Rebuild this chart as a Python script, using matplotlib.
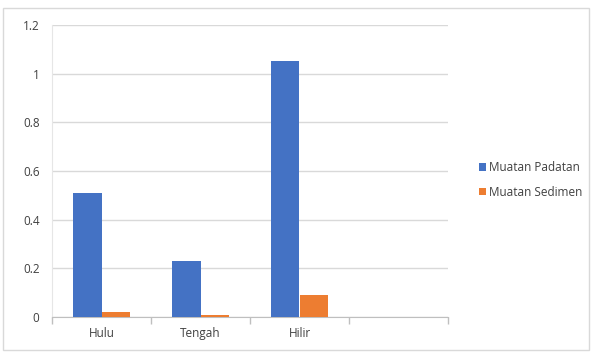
import matplotlib
matplotlib.use("Agg")
import matplotlib.pyplot as plt
from matplotlib.patches import Rectangle
import numpy as np

categories = ["Hulu", "Tengah", "Hilir", ""]
padatan = [0.51, 0.23, 1.05, None]
sedimen = [0.02, 0.01, 0.09, None]
series_names = ["Muatan Padatan", "Muatan Sedimen"]
yticks = [0, 0.2, 0.4, 0.6, 0.8, 1, 1.2]
ytick_labels = ["0", "0.2", "0.4", "0.6", "0.8", "1", "1.2"]

plt.rcParams['font.family'] = ['Open Sans', 'DejaVu Sans']

fig = plt.figure(figsize=(5.92, 3.52), dpi=100)
fig.patches.append(Rectangle((3/592, 2/352), 586/592, 342/352, transform=fig.transFigure,
                             fill=False, edgecolor="#d9d9d9", linewidth=1))
ax = fig.add_axes([52/592, 1-317/352, 396/592, 292/352])

x = np.arange(len(categories))
w = 0.285
pv = [np.nan if v is None else v for v in padatan]
sv = [np.nan if v is None else v for v in sedimen]
ax.bar(x - w/2, pv, w, color="#4472C4", label=series_names[0], zorder=3)
ax.bar(x + w/2, sv, w, color="#ED7D31", label=series_names[1], zorder=3)

ax.set_xlim(-0.5, len(categories) - 0.5)
ax.set_ylim(0, 1.2)
ax.set_yticks(yticks)
ax.set_yticklabels(ytick_labels)
ax.yaxis.grid(True, color="#d9d9d9", linewidth=1, zorder=0)
ax.set_xticks(x)
ax.set_xticklabels(categories)
ax.set_xticks(np.arange(len(categories) + 1) - 0.5, minor=True)
ax.tick_params(axis="x", which="major", length=0, pad=7, labelsize=8.5, colors="#404040")
ax.tick_params(axis="x", which="minor", length=5, color="#bfbfbf", width=1)
ax.tick_params(axis="y", length=0, pad=9, labelsize=8.5, colors="#404040")
for s in ["top", "right"]:
    ax.spines[s].set_visible(False)
ax.spines["left"].set_color("#e6e6e6")
ax.spines["bottom"].set_color("#bfbfbf")

ax.legend(loc="center left", bbox_to_anchor=(468/592, 1-180/352), bbox_transform=fig.transFigure,
          frameon=False, fontsize=8.5, handlelength=0.6, handleheight=0.6, handletextpad=0.3,
          labelspacing=0.95, labelcolor="#404040")

fig.savefig("out.png", dpi=100)
